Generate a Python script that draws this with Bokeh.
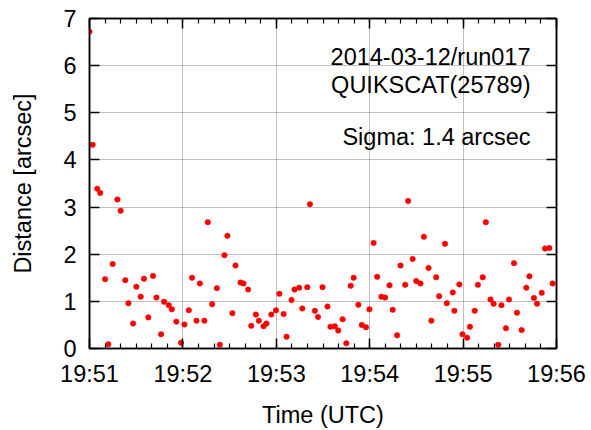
from bokeh.plotting import figure
from bokeh.models import Range1d, FixedTicker, LinearAxis, Label
from bokeh.embed import file_html
from bokeh.resources import INLINE

# seconds after 19:51:00 UTC
t_sec = [0.0, 2.0, 5.0, 6.9, 10.0, 12.1, 14.9, 17.9, 20.0, 23.0, 25.0, 28.0, 30.1, 32.9,
         35.0, 37.8, 40.8, 43.0, 46.0, 47.9, 50.9, 52.9, 55.8, 58.8, 61.0, 63.8, 65.9,
         68.7, 70.9, 73.8, 76.0, 78.8, 81.8, 83.7, 86.7, 88.6, 91.8, 93.8, 97.0, 98.9,
         101.9, 103.9, 106.9, 108.8, 111.8, 113.7, 116.8, 119.8, 122.0, 124.7, 126.6,
         129.8, 131.7, 134.7, 136.7, 139.9, 141.6, 144.8, 146.8, 149.7, 152.9, 154.8,
         157.6, 159.8, 162.6, 165.0, 167.8, 169.7, 172.7, 174.9, 177.6, 179.8, 182.5,
         184.8, 187.5, 189.9, 192.7, 194.8, 197.6, 199.8, 202.8, 204.7, 207.6, 209.9,
         212.6, 214.8, 217.8, 219.6, 222.7, 224.6, 228.4, 229.5, 233.4, 234.4, 237.6,
         239.6, 242.6, 244.4, 247.5, 249.5, 252.6, 254.6, 257.6, 259.6, 262.6, 264.6,
         267.5, 269.5, 272.7, 274.6, 277.6, 280.6, 282.6, 285.5, 287.5, 290.5, 292.6,
         295.4, 297.5]
dist = [6.72, 4.32, 3.39, 3.30, 1.47, 0.09, 1.79, 3.16, 2.92, 1.45, 0.96, 0.53, 1.31, 1.10,
        1.48, 0.66, 1.54, 1.08, 0.30, 0.99, 0.92, 0.83, 0.57, 0.12, 0.51, 0.81, 1.50,
        0.59, 1.38, 0.59, 2.68, 0.94, 1.28, 0.08, 1.98, 2.39, 0.75, 1.76, 1.40, 1.38,
        1.25, 0.48, 0.72, 0.59, 0.47, 0.53, 0.72, 0.81, 1.16, 0.73, 0.25,
        1.03, 1.25, 1.29, 0.85, 1.30, 3.06, 0.80, 0.67, 1.30, 0.89, 0.46,
        0.47, 0.38, 0.62, 0.11, 1.33, 1.50, 0.93, 0.50, 0.45, 0.83, 2.24,
        1.52, 1.10, 1.08, 1.34, 0.82, 0.28, 1.76, 1.35, 3.13, 1.90, 1.43,
        1.38, 2.37, 1.71, 0.59, 1.51, 1.11, 2.22, 0.96, 1.19, 0.80, 1.36,
        0.30, 0.23, 0.46, 0.80, 1.35, 1.51, 2.68, 1.04, 0.95, 0.08, 0.92,
        0.43, 1.04, 1.81, 0.76, 0.39, 1.29, 1.53, 1.07, 0.95, 1.18, 2.12,
        2.13, 1.38]

x_ticks = [0, 60, 120, 180, 240, 300]
x_tick_labels = ["19:51", "19:52", "19:53", "19:54", "19:55", "19:56"]
x_minor = [s for s in range(0, 301, 10)]
y_ticks = [0, 1, 2, 3, 4, 5, 6, 7]
info_lines = ["2014-03-12/run017", "QUIKSCAT(25789)", "Sigma: 1.4 arcsec"]
info_y = [6.18, 5.59, 4.48]

FONT = "Liberation Sans"
FS = "23.5px"

p = figure(width=591, height=430, output_backend="svg", toolbar_location=None,
           x_range=Range1d(0, 300), y_range=Range1d(0, 7),
           min_border_left=89, min_border_right=35, min_border_top=18,
           min_border_bottom=80)
p.background_fill_color = "white"
p.border_fill_color = "white"
p.outline_line_color = "black"
p.outline_line_width = 1.5

bottom = p.below[0]
left = p.left[0]

xt = FixedTicker(ticks=x_ticks, minor_ticks=x_minor)
yt = FixedTicker(ticks=y_ticks, minor_ticks=[])

bottom.ticker = xt
left.ticker = yt
bottom.major_label_overrides = {t: l for t, l in zip(x_ticks, x_tick_labels)}

top = LinearAxis(ticker=xt)
right = LinearAxis(ticker=yt)
top.major_label_overrides = {t: "" for t in x_ticks}
right.major_label_overrides = {t: "" for t in y_ticks}
p.add_layout(top, "above")
p.add_layout(right, "right")

for ax in [bottom, left, top, right]:
    ax.axis_line_color = "black"
    ax.axis_line_width = 1.5
    ax.major_tick_line_color = "black"
    ax.major_tick_line_width = 1.5
    ax.minor_tick_line_color = "black"
    ax.minor_tick_line_width = 1.2
    ax.major_tick_in = 10
    ax.major_tick_out = 0
    ax.minor_tick_in = 5
    ax.minor_tick_out = 0
    ax.major_label_text_font = FONT
    ax.major_label_text_font_size = FS
    ax.major_label_text_color = "black"

for ax in [top, right]:
    ax.major_label_standoff = 0

bottom.major_label_standoff = 12
left.major_label_standoff = 13
bottom.axis_label = "Time (UTC)"
left.axis_label = "Distance [arcsec]"
for ax in [bottom, left]:
    ax.axis_label_text_font = FONT
    ax.axis_label_text_font_size = FS
    ax.axis_label_text_font_style = "normal"
    ax.axis_label_text_color = "black"
bottom.axis_label_standoff = 12
left.axis_label_standoff = 24

p.xgrid.ticker = FixedTicker(ticks=[60, 120, 180, 240])
p.ygrid.ticker = FixedTicker(ticks=[1, 2, 3, 4, 5, 6])
for g in [p.xgrid[0], p.ygrid[0]]:
    g.grid_line_color = "#808080"
    g.grid_line_dash = "1 1"
    g.grid_line_width = 1

p.scatter(t_sec, dist, size=5.5, fill_color="red", line_color="red", line_width=0.5)

for txt, yy in zip(info_lines, info_y):
    p.add_layout(Label(x=283.3, y=yy, text=txt, text_align="right",
                       text_baseline="alphabetic", text_font=FONT,
                       text_font_size=FS, text_color="black"))

open("out.html", "w").write(file_html(p, INLINE))
